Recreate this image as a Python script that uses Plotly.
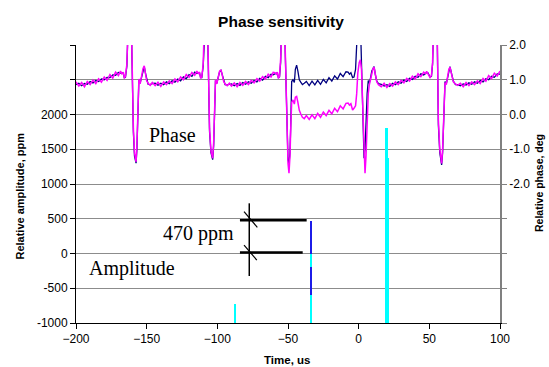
import plotly.graph_objects as go

# ---------------- data ----------------
# phase traces (time in us, phase in deg)
t_phase = [
    -200, -198, -196, -194, -192, -190, -188, -186, -184, -182, -180, -178, -176, -174, -172, -170, -168.5,
    -167.5, -166.5, -165.8, -165.0, -164.0, -163.2, -162.0, -160.8, -160.2, -159.4, -158.6, -157.5, -156.9, -156.2, -155.5, -154.6, -153.6, -152.6, -151.7, -150.9, -150.0, -149.0, -147.5, -146.0,
    -144, -142, -140, -138, -136, -134, -132, -130, -128, -126, -124, -122, -120, -118, -116, -114.5,
    -113.5, -112.6, -111.8, -111.0, -110.0, -109.3, -108.0, -106.9, -106.3, -105.5, -104.5, -103.3, -102.6, -101.9, -101.3, -100.4, -99.4, -98.4, -97.4, -96.5, -95.5, -94.5, -93.0, -91.5,
    -90, -88, -86, -84, -82, -80, -78, -76, -74, -72, -70, -68, -66, -64, -62, -60.5,
    -59.2, -58.2, -57.5, -56.8, -56.0, -55.2, -54.6, -53.5, -52.4, -51.6, -50.8, -50.0, -49.3, -48.6, -48.0, -47.4, -46.5, -45.5, -44.8, -43.9, -43.0, -42.0, -41.0, -39.8, -38.5,
    -37, -35, -33, -31, -29, -27, -25, -23, -21, -19, -17, -15, -13, -11, -9,
    -7.5, -6.5, -5.5, -4.3, -3.3, -2.2, -1.4, -0.6, 0.4, 1.2, 2.0, 2.8, 3.8, 4.5, 5.2, 6.0, 6.8, 7.5, 8.4, 9.3, 10.2, 10.9, 11.8, 12.8, 14.0,
    16, 18, 20, 22, 24, 26, 28, 30, 32, 34, 36, 38, 40, 42, 44, 46,
    47.3, 48.1, 49.0, 50.5, 51.5, 52.3, 53.0, 54.3, 55.5, 56.4, 57.4, 58.7, 59.4, 60.2, 61.1, 62.0, 62.9, 63.8, 64.6, 65.6, 67.0, 68.5, 70.0,
    72, 74, 76, 78, 80, 82, 84, 86, 88, 90, 92, 94, 96, 98, 100,
]

phase_magenta = [
    0.94, 0.82, 0.92, 0.80, 0.95, 0.86, 0.99, 0.89, 1.03, 0.93, 1.08, 0.98, 1.15, 1.05, 1.22, 1.12, 1.25,
    1.17, 1.22, 1.04, 1.10, 1.45, 2.5, 3.2, 2.6, 1.2, -0.4, -1.1, -1.36, -0.9, 0.5, 1.02, 0.88, 1.12, 1.32, 1.40, 1.18, 0.97, 0.90, 0.84, 0.92,
    0.83, 0.93, 0.81, 0.94, 0.86, 0.97, 0.89, 1.02, 0.94, 1.08, 1.00, 1.15, 1.07, 1.21, 1.13, 1.25,
    1.18, 1.22, 1.04, 1.08, 1.45, 2.5, 3.2, 2.6, 1.2, -0.4, -1.05, -1.26, -0.8, 0.5, 1.0, 0.88, 1.1, 1.25, 1.29, 1.12, 0.95, 0.88, 0.83, 0.90,
    0.82, 0.91, 0.80, 0.92, 0.84, 0.95, 0.86, 0.98, 0.91, 1.03, 0.96, 1.09, 1.02, 1.16, 1.08, 1.21,
    1.20, 1.16, 1.22, 1.04, 1.10, 1.6, 2.6, 3.2, 2.6, 1.0, -0.6, -1.4, -1.69, -1.2, -0.3, 0.35, 0.42, 0.30, 0.50, 0.52, 0.35, 0.12, 0.02, -0.08, -0.12,
    -0.03, -0.14, -0.01, -0.12, 0.03, -0.08, 0.07, -0.03, 0.12, 0.02, 0.18, 0.08, 0.25, 0.16, 0.32,
    0.33, 0.27, 0.31, 0.13, 0.18, 0.25, 0.6, 1.2, 1.5, 1.57, 1.3, 0.3, -1.2, -1.69, -1.2, -0.2, 0.6, 0.85, 1.0, 1.2, 1.33, 1.36, 1.12, 0.94, 0.86,
    0.80, 0.90, 0.78, 0.89, 0.82, 0.94, 0.86, 0.98, 0.91, 1.04, 0.96, 1.10, 1.02, 1.17, 1.09, 1.22,
    1.17, 1.24, 1.18, 1.06, 1.12, 1.5, 2.6, 3.2, 2.6, -0.16, -1.0, -1.41, -1.0, 0.2, 0.92, 0.86, 1.1, 1.3, 1.36, 1.18, 0.94, 0.88, 0.84,
    0.90, 0.80, 0.92, 0.83, 0.94, 0.86, 0.97, 0.89, 1.04, 0.96, 1.12, 1.03, 1.19, 1.11, 1.25,
]

phase_navy = [
    0.86, 0.90, 0.83, 0.89, 0.87, 0.95, 0.91, 0.98, 0.95, 1.02, 1.00, 1.07, 1.06, 1.14, 1.13, 1.21, 1.19,
    1.20, 1.18, 1.06, 1.07, 1.40, 2.4, 3.1, 2.5, 1.1, -0.5, -1.2, -1.40, -1.0, 0.4, 1.00, 0.91, 1.08, 1.30, 1.38, 1.20, 0.99, 0.87, 0.86, 0.89,
    0.90, 0.84, 0.90, 0.86, 0.94, 0.89, 0.97, 0.93, 1.02, 0.97, 1.08, 1.03, 1.15, 1.10, 1.22, 1.18,
    1.20, 1.19, 1.06, 1.06, 1.40, 2.4, 3.1, 2.5, 1.1, -0.5, -1.1, -1.30, -0.9, 0.4, 0.98, 0.90, 1.08, 1.23, 1.27, 1.14, 0.97, 0.86, 0.85, 0.87,
    0.88, 0.83, 0.89, 0.84, 0.92, 0.87, 0.94, 0.90, 0.98, 0.94, 1.04, 0.99, 1.10, 1.06, 1.16, 1.14,
    1.18, 1.19, 1.19, 1.06, 1.08, 1.5, 2.5, 3.1, 2.5, 0.9, -0.7, -1.3, -1.40, -1.1, -0.2, 0.95, 1.00, 0.92, 1.30, 1.42, 1.25, 1.00, 0.93, 0.86, 0.90,
    0.95, 0.83, 0.96, 0.85, 0.98, 0.87, 1.01, 0.91, 1.06, 0.96, 1.11, 1.02, 1.18, 1.09, 1.23,
    1.22, 1.16, 1.20, 1.06, 1.08, 1.30, 2.0, 3.0, 3.3, 2.7, 1.2, -0.3, -1.26, -1.0, -0.2, 0.6, 0.98, 0.90, 1.05, 1.25, 1.32, 1.38, 1.15, 0.96, 0.89,
    0.87, 0.82, 0.86, 0.81, 0.90, 0.86, 0.94, 0.90, 0.99, 0.95, 1.04, 1.01, 1.10, 1.07, 1.17, 1.14,
    1.20, 1.21, 1.20, 1.08, 1.10, 1.45, 2.5, 3.1, 2.5, -0.3, -1.1, -1.45, -1.1, 0.1, 0.95, 0.88, 1.08, 1.28, 1.38, 1.20, 0.96, 0.86, 0.86,
    0.83, 0.88, 0.85, 0.91, 0.87, 0.94, 0.90, 0.98, 0.94, 1.03, 1.00, 1.10, 1.07, 1.17, 1.16,
]

# amplitude spikes (ppm), drawn up from the bottom of the axis
amp_base = -1000
amp_cyan_t = [-87.5, -33.7, 20.0, 20.0]
amp_cyan_top = [-720, 460, 1800, 1370]
amp_blue_t = [-33.7, -33.7]
amp_blue_lo = [0, -600]
amp_blue_hi = [470, -200]

# axis ticks
x_ticks = [-200, -150, -100, -50, 0, 50, 100]
amp_ticks = [-1000, -500, 0, 500, 1000, 1500, 2000, 2500, 3000]
amp_labels = ["-1000", "-500", "0", "500", "1000", "1500", "2000", "", ""]
phase_ticks = [-6, -5, -4, -3, -2, -1, 0, 1, 2]
phase_labels = ["", "", "", "", "-2.0", "-1.0", "0.0", "1.0", "2.0"]
dark_grid = [-500, 0, 500, 2000, 2500]

# annotation bracket "470 ppm" (data coords: us, ppm)
br_x = -77.4
br_y_top, br_y_bot = 722, -324
br_lines = [(-84.0, -36.8, 480), (-84.0, -39.6, 15)]
br_ticks = [(-81.1, 601, -71.7, 377), (-81.1, 122, -72.1, -94)]

SANS = "Liberation Sans, Arial, sans-serif"
SERIF = "Liberation Serif, Times New Roman, serif"

W, H = 549, 367

fig = go.Figure()

# amplitude bars
cyan_w = [1.4, 1.8, 1.4, 2.4]
fig.add_trace(go.Bar(
    x=amp_cyan_t, y=[v - amp_base for v in amp_cyan_top], base=amp_base,
    width=cyan_w, marker=dict(color="#00FFFF", line=dict(width=0)),
    yaxis="y", showlegend=False, hoverinfo="skip"))
fig.add_trace(go.Bar(
    x=amp_blue_t, y=[h - l for h, l in zip(amp_blue_hi, amp_blue_lo)], base=amp_blue_lo,
    width=[1.4, 1.4], marker=dict(color="#1C1CE8", line=dict(width=0)),
    yaxis="y", showlegend=False, hoverinfo="skip"))

# phase traces
fig.add_trace(go.Scatter(x=t_phase, y=phase_navy, mode="lines", yaxis="y2",
                         line=dict(color="#000080", width=1.3), showlegend=False))
fig.add_trace(go.Scatter(x=t_phase, y=phase_magenta, mode="lines", yaxis="y2",
                         line=dict(color="#FF00FF", width=1.5), showlegend=False))

shapes = []
shapes.append(dict(type="line", xref="x", yref="y", x0=br_x, x1=br_x, y0=br_y_bot, y1=br_y_top,
                   line=dict(color="black", width=1.5)))
for x0, x1, yv in br_lines:
    shapes.append(dict(type="line", xref="x", yref="y", x0=x0, x1=x1, y0=yv, y1=yv,
                       line=dict(color="black", width=2.5)))
for x0, y0, x1, y1 in br_ticks:
    shapes.append(dict(type="line", xref="x", yref="y", x0=x0, x1=x1, y0=y0, y1=y1,
                       line=dict(color="black", width=1.2)))

annotations = [
    dict(text="Phase", x=-131.7, y=1712, xref="x", yref="y", showarrow=False,
         font=dict(family=SERIF, size=20, color="black"), xanchor="center", yanchor="middle"),
    dict(text="470 ppm", x=-113.1, y=281, xref="x", yref="y", showarrow=False,
         font=dict(family=SERIF, size=20, color="black"), xanchor="center", yanchor="middle"),
    dict(text="Amplitude", x=-160.7, y=-213, xref="x", yref="y", showarrow=False,
         font=dict(family=SERIF, size=20, color="black"), xanchor="center", yanchor="middle"),
    dict(text="<b>Relative amplitude, ppm</b>", x=-0.1344, y=0.455, xref="paper", yref="paper",
         showarrow=False, textangle=-90, font=dict(family=SANS, size=11, color="black"),
         xanchor="center", yanchor="middle"),
    dict(text="<b>Relative phase, deg</b>", x=1.0932, y=0.5018, xref="paper", yref="paper",
         showarrow=False, textangle=-90, font=dict(family=SANS, size=10.5, color="black"),
         xanchor="center", yanchor="middle"),
    dict(text="<b>Time, us</b>", x=0.4976, y=-0.133, xref="paper", yref="paper",
         showarrow=False, font=dict(family=SANS, size=11.5, color="black"),
         xanchor="center", yanchor="middle"),
]

fig.update_layout(
    width=W, height=H,
    margin=dict(l=76, r=49, t=45, b=44),
    paper_bgcolor="white", plot_bgcolor="white",
    barmode="overlay", bargap=0,
    showlegend=False,
    title=dict(text="<b>Phase sensitivity</b>", x=281 / W, xanchor="center",
               y=1 - 21.7 / H, yanchor="middle",
               font=dict(family=SANS, size=15.5, color="black")),
    font=dict(family=SANS, size=12, color="black"),
    xaxis=dict(range=[-200, 100], tickvals=x_ticks, ticks="outside", ticklen=5,
               tickcolor="black", showline=True, linecolor="black", linewidth=1,
               showgrid=False, zeroline=False, tickfont=dict(size=12)),
    yaxis=dict(range=[-1000, 3000], tickvals=amp_ticks, ticktext=amp_labels,
               ticks="outside", ticklen=5, tickcolor="black",
               showline=True, linecolor="black", linewidth=1,
               showgrid=True, gridcolor="#8C8C8C", gridwidth=1.2, zeroline=False,
               tickfont=dict(size=12)),
    yaxis2=dict(range=[-6, 2], tickvals=phase_ticks, ticktext=phase_labels,
                overlaying="y", side="right", ticks="outside", ticklen=5,
                tickcolor="#808080", showline=True, linecolor="#808080", linewidth=1.5,
                showgrid=False, zeroline=False, tickfont=dict(size=12)),
    yaxis3=dict(range=[-1000, 3000], tickvals=dark_grid, overlaying="y", side="left",
                showticklabels=False, ticks="", showline=False, showgrid=True,
                gridcolor="black", gridwidth=1, zeroline=False),
    shapes=shapes,
    annotations=annotations,
)

# remove the default 8px page margin so the figure fills the 549x367 window exactly
fig.write_html("out.html", config={"displayModeBar": False},
               post_script="document.body.style.margin='0';document.body.style.overflow='hidden';")
